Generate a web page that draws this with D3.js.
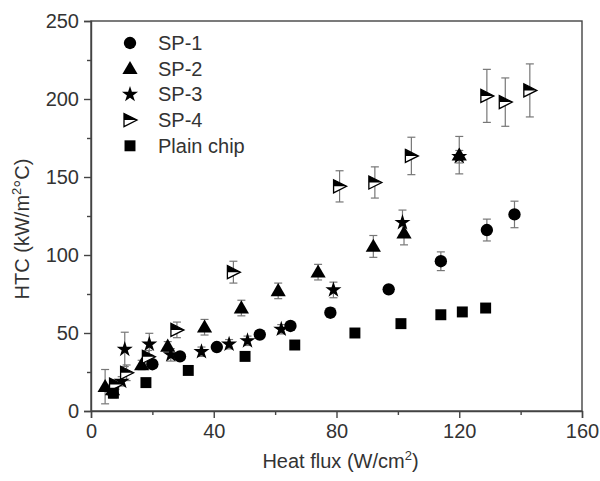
<!DOCTYPE html>
<html>
<head>
<meta charset="utf-8">
<script src="https://cdn.jsdelivr.net/npm/d3@7"></script>
<style>
  body { margin: 0; background: #fff; }
  text { font-family: "Liberation Sans", Arial, sans-serif; fill: #333; }
</style>
</head>
<body>
<div id="chart"></div>
<script>
const sp1X = [20, 29, 41, 55, 65, 78, 97, 114, 129, 138];
const sp1Y = [30, 35, 41, 49, 54.5, 63, 78, 96, 116, 126];
const sp1Err = [2, 2, 2, 2, 2, 3, 2, 6, 7, 8.5];

const sp2X = [4.6, 7, 16.5, 25, 37, 49, 61, 74, 92, 102, 120];
const sp2Y = [15.6, 13.5, 29.5, 41.5, 53.7, 66, 77, 89, 105.5, 114, 164];
const sp2Err = [11, 3, 3, 3, 5, 5, 5, 5, 7, 7.5, 12];

const sp3X = [7, 10, 11, 19, 26, 36, 45, 51, 62, 79, 101.5, 120];
const sp3Y = [14, 19, 39.5, 42.8, 36, 38, 42.8, 45, 52.4, 77.6, 120.8, 163];
const sp3Err = [3, 3, 11, 7, 4, 3, 3, 3, 3, 5, 8, 4];

const sp4X = [8, 11.6, 18.7, 28, 46.4, 81, 92.5, 104.4, 129, 135, 143];
const sp4Y = [17, 24.5, 34.8, 52, 89, 144, 146.5, 163.5, 202, 198, 205.5];
const sp4Err = [3, 5, 4, 5, 7, 10, 10, 12, 17, 15.5, 17];

const plainX = [7.3, 17.9, 31.7, 50.2, 66.4, 86, 101, 114, 121, 128.6];
const plainY = [11.4, 18.2, 26, 35, 42.3, 50, 56, 61.7, 63.5, 66];
const plainErr = [3, 1, 1, 1, 1, 1, 1, 1.5, 2, 2];

const seriesNames = ["SP-1", "SP-2", "SP-3", "SP-4", "Plain chip"];
const xTicks = [0, 40, 80, 120, 160];
const yTicks = [0, 50, 100, 150, 200, 250];

const width = 600, height = 481;
const margin = {left: 91, right: 18, top: 21, bottom: 70};
const fontSize = "20px";

const svg = d3.select("#chart").append("svg")
    .attr("width", width)
    .attr("height", height);

const x = d3.scaleLinear().domain([0, 160]).range([margin.left, width - margin.right]);
const y = d3.scaleLinear().domain([0, 250]).range([height - margin.bottom, margin.top]);

const series = [
    {name: seriesNames[0], xs: sp1X, ys: sp1Y, err: sp1Err, shape: "circle"},
    {name: seriesNames[1], xs: sp2X, ys: sp2Y, err: sp2Err, shape: "triangle"},
    {name: seriesNames[2], xs: sp3X, ys: sp3Y, err: sp3Err, shape: "star"},
    {name: seriesNames[3], xs: sp4X, ys: sp4Y, err: sp4Err, shape: "half"},
    {name: seriesNames[4], xs: plainX, ys: plainY, err: plainErr, shape: "square"}
];

// axes: outward major ticks plus shorter minor ticks
svg.append("g")
    .attr("transform", `translate(0,${y(0)})`)
    .call(d3.axisBottom(x).tickValues(xTicks).tickSize(7).tickPadding(6));
svg.append("g")
    .attr("transform", `translate(0,${y(0)})`)
    .call(d3.axisBottom(x).tickValues(d3.range(20, 160, 40)).tickSize(4).tickFormat(""))
    .call(g => g.select(".domain").remove());

svg.append("g")
    .attr("transform", `translate(${x(0)},0)`)
    .call(d3.axisLeft(y).tickValues(yTicks).tickSize(7).tickPadding(5));
svg.append("g")
    .attr("transform", `translate(${x(0)},0)`)
    .call(d3.axisLeft(y).tickValues(d3.range(25, 250, 50)).tickSize(4).tickFormat(""))
    .call(g => g.select(".domain").remove());

svg.selectAll(".tick text").style("font-size", fontSize).attr("fill", "#333");
svg.selectAll(".domain, .tick line").attr("stroke", "#444").attr("stroke-width", 1.4);

// frame top and right
svg.append("rect")
    .attr("x", x(0)).attr("y", y(250))
    .attr("width", x(160) - x(0)).attr("height", y(0) - y(250))
    .attr("fill", "none").attr("stroke", "#444").attr("stroke-width", 1.4);

// axis titles
const xt = svg.append("text")
    .attr("x", (x(0) + x(160)) / 2 + 4)
    .attr("y", 468)
    .attr("text-anchor", "middle")
    .style("font-size", fontSize);
xt.append("tspan").text("Heat flux (W/cm");
xt.append("tspan").attr("dy", -8).style("font-size", "13px").text("2");
xt.append("tspan").attr("dy", 8).text(")");

const yt = svg.append("text")
    .attr("transform", `translate(29,${229}) rotate(-90)`)
    .attr("text-anchor", "middle")
    .style("font-size", fontSize);
yt.append("tspan").text("HTC (kW/m");
yt.append("tspan").attr("dy", -8).style("font-size", "13px").text("2");
yt.append("tspan").attr("dy", 8).text("°C)");

// marker drawing
function drawMarker(g, shape) {
    if (shape === "circle") {
        g.append("path").attr("d", d3.symbol(d3.symbolCircle, 120)()).attr("fill", "#000");
    } else if (shape === "triangle") {
        g.append("path").attr("d", d3.symbol(d3.symbolTriangle, 100)())
            .attr("transform", "translate(0,1)").attr("fill", "#000");
    } else if (shape === "star") {
        g.append("path").attr("d", d3.symbol(d3.symbolStar, 80)()).attr("fill", "#000");
    } else if (shape === "square") {
        g.append("path").attr("d", d3.symbol(d3.symbolSquare, 120)()).attr("fill", "#000");
    } else if (shape === "half") {
        g.append("path").attr("d", "M-6,-6.5L7,0L-6,6.5Z")
            .attr("fill", "#fff").attr("stroke", "#000").attr("stroke-width", 1.3);
        g.append("path").attr("d", "M-6,-6.5L7,0L-6,0Z").attr("fill", "#000");
    }
}

// error bars
const errG = svg.append("g").attr("stroke", "#777").attr("stroke-width", 1.2);
series.forEach(s => {
    s.xs.forEach((xv, i) => {
        const cx = x(xv), top = y(s.ys[i] + s.err[i]), bot = y(s.ys[i] - s.err[i]);
        errG.append("line").attr("x1", cx).attr("x2", cx).attr("y1", top).attr("y2", bot);
        errG.append("line").attr("x1", cx - 4).attr("x2", cx + 4).attr("y1", top).attr("y2", top);
        errG.append("line").attr("x1", cx - 4).attr("x2", cx + 4).attr("y1", bot).attr("y2", bot);
    });
});

// markers
series.forEach(s => {
    s.xs.forEach((xv, i) => {
        const g = svg.append("g").attr("transform", `translate(${x(xv)},${y(s.ys[i])})`);
        drawMarker(g, s.shape);
    });
});

// legend
const legend = svg.append("g").attr("transform", "translate(130,43)");
series.forEach((s, i) => {
    const row = legend.append("g").attr("transform", `translate(0,${i * 25.7})`);
    drawMarker(row, s.shape);
    row.append("text")
        .attr("x", 28)
        .attr("y", 7)
        .style("font-size", fontSize)
        .text(s.name);
});
</script>
</body>
</html>
